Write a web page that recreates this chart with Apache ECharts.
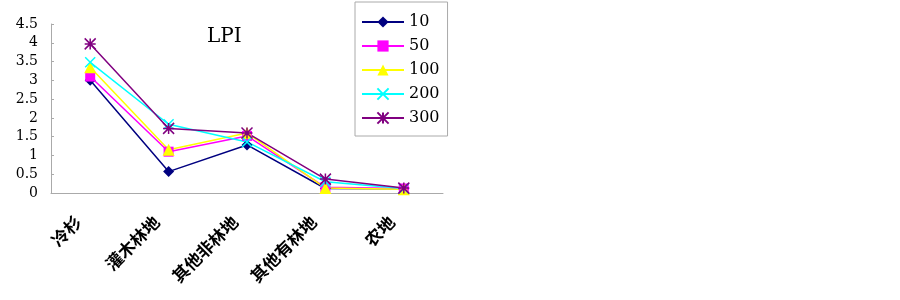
<!DOCTYPE html>
<html><head><meta charset="utf-8">
<script src="https://cdn.jsdelivr.net/npm/echarts@6/dist/echarts.min.js"></script>
<style>html,body{margin:0;padding:0;background:#fff}#c{width:900px;height:300px}</style>
</head><body><div id="c"></div>
<script>
var categories = ['冷杉', '灌木林地', '其他非林地', '其他有林地', '农地'];
var yTicks = [0, 0.5, 1, 1.5, 2, 2.5, 3, 3.5, 4, 4.5];
var s10 = [3.0, 0.57, 1.28, 0.12, 0.11];
var s50 = [3.1, 1.1, 1.52, 0.15, 0.12];
var s100 = [3.35, 1.15, 1.6, 0.13, 0.1];
var s200 = [3.48, 1.83, 1.36, 0.3, 0.12];
var s300 = [3.97, 1.72, 1.6, 0.37, 0.13];
var names = ['10', '50', '100', '200', '300'];

var serif = '"DejaVu Serif", "Liberation Serif", serif';
var cjk = '"Noto Sans CJK SC", sans-serif';
var crossPath = 'path://M0 0L10 10M10 0L0 10';
var starPath = 'path://M5 0L5 10M0 0L10 10M10 0L0 10M0 5L10 5';

function mk(name, data, color, symbol, size, stroke) {
  return {
    name: name, type: 'line', data: data, symbol: symbol, symbolSize: size,
    lineStyle: { color: color, width: 1.5 },
    itemStyle: stroke ? { color: color, borderColor: color, borderWidth: 1.5 } : { color: color },
    emphasis: { disabled: true }
  };
}

var chart = echarts.init(document.getElementById('c'), null, { renderer: 'canvas' });
chart.setOption({
  animation: false,
  backgroundColor: '#fff',
  title: { text: 'LPI', left: 202, top: 22, textStyle: { fontFamily: serif, fontSize: 20, fontWeight: 'normal', color: '#000' } },
  legend: {
    data: names, orient: 'vertical', left: 355, top: 2,
    padding: [12, 8, 10, 6], itemWidth: 42, itemHeight: 14, itemGap: 8,
    borderColor: '#aaa', borderWidth: 1,
    textStyle: { fontFamily: serif, fontSize: 16, color: '#000' }
  },
  grid: { left: 51, right: 457, top: 24, bottom: 107 },
  xAxis: {
    type: 'category', data: categories, boundaryGap: true,
    axisLine: { lineStyle: { color: '#aaa', width: 1 } },
    axisTick: { inside: true, length: 4, lineStyle: { color: '#aaa' } },
    axisLabel: { rotate: 45, margin: 14, padding: [0, 17, 0, 0], fontFamily: cjk, fontSize: 17, fontWeight: 'bold', color: '#000', interval: 0 }
  },
  yAxis: {
    type: 'value', min: 0, max: 4.5, interval: 0.5,
    axisLine: { show: true, lineStyle: { color: '#aaa', width: 1 } },
    axisTick: { show: true, inside: true, length: 3, lineStyle: { color: '#aaa' } },
    splitLine: { show: false },
    axisLabel: { margin: 13, fontFamily: serif, fontSize: 14, color: '#000',
      formatter: function (v) { return String(v); } }
  },
  series: [
    mk('10', s10, '#000080', 'diamond', 11, false),
    mk('50', s50, '#ff00ff', 'rect', 10, false),
    mk('100', s100, '#ffff00', 'triangle', 12, false),
    mk('200', s200, '#00ffff', crossPath, 10, true),
    mk('300', s300, '#800080', starPath, 11, true)
  ]
});
</script></body></html>
